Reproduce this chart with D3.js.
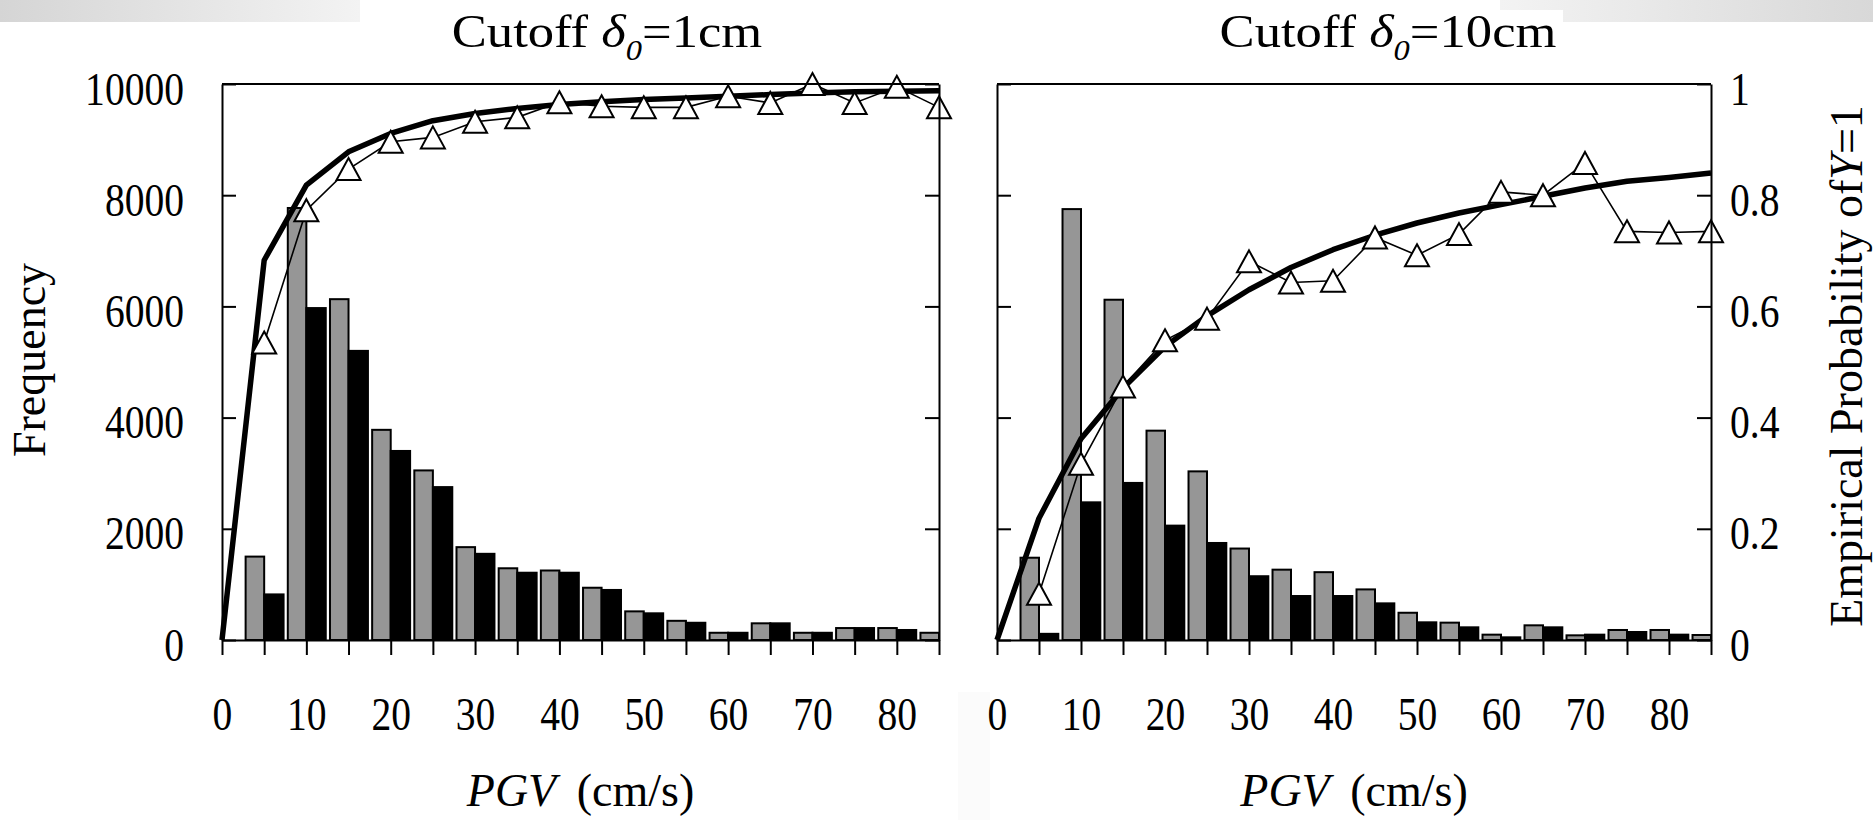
<!DOCTYPE html>
<html>
<head>
<meta charset="utf-8">
<script src="https://cdn.jsdelivr.net/npm/d3@7"></script>
<style>
body { margin: 0; background: #fff; }
svg { display: block; font-family: "Liberation Serif", "Times New Roman", serif; }
</style>
</head>
<body>
<div id="chart"></div>
<script>
'use strict';

// bin centres (PGV, cm/s) for bars and empirical points
var pgv = [5, 10, 15, 20, 25, 30, 35, 40, 45, 50, 55, 60, 65, 70, 75, 80, 85];
// points of the fitted curve
var fitPgv = [0, 5, 10, 15, 20, 25, 30, 35, 40, 45, 50, 55, 60, 65, 70, 75, 80, 85];

// cutoff 1cm
var count1All = [1500, 7770, 6130, 3780, 3050, 1670, 1290, 1250, 940, 515, 345, 130, 300, 130, 215, 215, 130];
var count1Y = [820, 5970, 5200, 3400, 2750, 1550, 1210, 1210, 900, 480, 310, 130, 300, 130, 215, 180, null];
var prob1Emp = [0.535, 0.773, 0.847, 0.896, 0.904, 0.932, 0.940, 0.967, 0.960, 0.958, 0.958, 0.978, 0.966, 1.0, 0.966, 0.995, 0.958];
var prob1Fit = [0, 0.683, 0.818, 0.878, 0.911, 0.934, 0.947, 0.956, 0.963, 0.968, 0.972, 0.975, 0.978, 0.981, 0.984, 0.986, 0.987, 0.988];

// cutoff 10cm
var count10All = [1480, 7750, 6120, 3765, 3033, 1645, 1265, 1220, 910, 490, 312, 96, 264, 84, 180, 180, 90];
var count10Y = [111, 2476, 2825, 2057, 1745, 1147, 791, 791, 659, 318, 228, 48, 228, 96, 144, 96, null];
var prob10Emp = [0.083, 0.317, 0.456, 0.539, 0.578, 0.681, 0.643, 0.646, 0.724, 0.692, 0.730, 0.806, 0.800, 0.858, 0.735, 0.733, 0.735];
var prob10Fit = [0, 0.219, 0.362, 0.453, 0.528, 0.583, 0.630, 0.670, 0.702, 0.728, 0.750, 0.768, 0.783, 0.798, 0.813, 0.825, 0.832, 0.840];

var xTicks = [0, 5, 10, 15, 20, 25, 30, 35, 40, 45, 50, 55, 60, 65, 70, 75, 80, 85];
var countTicks = [0, 2000, 4000, 6000, 8000, 10000];
var probTicks = [0, 0.2, 0.4, 0.6, 0.8, 1];

var plotTop = 84;
var plotBottom = 640;

var panels = [
  { title: '1cm', left: 222, right: 939, titleX: 607, all: count1All, yes: count1Y, emp: prob1Emp, fit: prob1Fit, first: true },
  { title: '10cm', left: 997, right: 1711, titleX: 1388, all: count10All, yes: count10Y, emp: prob10Emp, fit: prob10Fit, first: false }
];

var svg = d3.select('#chart').append('svg')
  .attr('width', 1873)
  .attr('height', 820);

// slide background leftovers at the top edge
var defs = svg.append('defs');
var gl = defs.append('linearGradient').attr('id', 'bgLeft');
gl.append('stop').attr('offset', '0').attr('stop-color', '#d5d5d5');
gl.append('stop').attr('offset', '1').attr('stop-color', '#f3f3f3');
var gr = defs.append('linearGradient').attr('id', 'bgRight');
gr.append('stop').attr('offset', '0').attr('stop-color', '#f3f3f3');
gr.append('stop').attr('offset', '1').attr('stop-color', '#d8d8d8');

svg.append('rect').attr('x', 0).attr('y', 0).attr('width', 360).attr('height', 22).attr('fill', 'url(#bgLeft)');
svg.append('rect').attr('x', 1500).attr('y', 0).attr('width', 373).attr('height', 22).attr('fill', 'url(#bgRight)');
svg.append('rect').attr('x', 1500).attr('y', 10).attr('width', 63).attr('height', 12).attr('fill', '#fff');
svg.append('rect').attr('x', 958).attr('y', 692).attr('width', 32).attr('height', 128).attr('fill', '#fbfbfb');

function triangle(w, h) {
  return 'M0,' + (-h / 2) + 'L' + (w / 2) + ',' + (h / 2) + 'L' + (-w / 2) + ',' + (h / 2) + 'Z';
}

function fixAxis(sel) {
  sel.attr('font-family', null).attr('font-size', 46);
  sel.selectAll('path, line').attr('stroke', '#000').attr('stroke-width', 2);
  sel.selectAll('text').attr('fill', '#000');
}

function drawPanel(p) {
  var x = d3.scaleLinear().domain([0, 85]).range([p.left, p.right]);
  var y = d3.scaleLinear().domain([0, 10000]).range([plotBottom, plotTop]);
  var yp = d3.scaleLinear().domain([0, 1]).range([plotBottom, plotTop]);

  var g = svg.append('g');

  // all records (grey) and Y=1 records (black)
  g.selectAll('rect.all')
    .data(p.all)
    .enter()
    .append('rect')
    .attr('class', 'all')
    .attr('x', (d, i) => x(pgv[i] - 2.2))
    .attr('width', (d, i) => x(pgv[i]) - x(pgv[i] - 2.2))
    .attr('y', d => y(d))
    .attr('height', d => y(0) - y(d))
    .attr('fill', '#969696')
    .attr('stroke', '#000')
    .attr('stroke-width', 2);

  g.selectAll('rect.yes')
    .data(p.yes.map((d, i) => ({ v: d, pgv: pgv[i] })).filter(d => d.v !== null))
    .enter()
    .append('rect')
    .attr('class', 'yes')
    .attr('x', d => x(d.pgv))
    .attr('width', d => x(d.pgv + 2.3) - x(d.pgv))
    .attr('y', d => y(d.v))
    .attr('height', d => y(0) - y(d.v))
    .attr('fill', '#000')
    .attr('stroke', '#000')
    .attr('stroke-width', 2);

  var line = d3.line()
    .x(d => x(d[0]))
    .y(d => yp(d[1]));

  g.append('path')
    .datum(d3.zip(fitPgv, p.fit))
    .attr('d', line)
    .attr('fill', 'none')
    .attr('stroke', '#000')
    .attr('stroke-width', 5.5)
    .attr('stroke-linejoin', 'round');

  g.append('path')
    .datum(d3.zip(pgv, p.emp))
    .attr('d', line)
    .attr('fill', 'none')
    .attr('stroke', '#000')
    .attr('stroke-width', 1.6);

  g.selectAll('path.tri')
    .data(d3.zip(pgv, p.emp))
    .enter()
    .append('path')
    .attr('class', 'tri')
    .attr('d', triangle(24, 22))
    .attr('transform', d => 'translate(' + x(d[0]) + ',' + yp(d[1]) + ')')
    .attr('fill', '#fff')
    .attr('stroke', '#000')
    .attr('stroke-width', 2)
    .attr('stroke-linejoin', 'miter');

  // frame and axes
  g.append('line')
    .attr('x1', p.left).attr('x2', p.right)
    .attr('y1', plotTop).attr('y2', plotTop)
    .attr('stroke', '#000').attr('stroke-width', 2);

  var xAxis = d3.axisBottom(x)
    .tickValues(xTicks)
    .tickSizeInner(15)
    .tickSizeOuter(0)
    .tickFormat(d => d % 10 === 0 ? d : '');

  g.append('g')
    .attr('transform', 'translate(0,' + plotBottom + ')')
    .call(xAxis)
    .call(fixAxis)
    .call(s => s.selectAll('text').attr('y', 0).attr('dy', 0)
      .attr('transform', 'translate(0,90) scale(0.86,1)'));

  if (p.first) {
    var yAxis = d3.axisLeft(y).tickValues(countTicks).tickSizeInner(-14).tickSizeOuter(0)
      .tickFormat(d3.format('d'));
    g.append('g')
      .attr('transform', 'translate(' + p.left + ',0)')
      .call(yAxis)
      .call(fixAxis)
      .call(s => s.selectAll('text').attr('x', 0).attr('dy', 0)
        .attr('transform', 'translate(-38,20) scale(0.86,1)'));

    g.append('g')
      .attr('transform', 'translate(' + p.right + ',0)')
      .call(d3.axisLeft(y).tickValues(countTicks).tickSizeInner(14).tickSizeOuter(0).tickFormat(''))
      .call(fixAxis);
  } else {
    g.append('g')
      .attr('transform', 'translate(' + p.left + ',0)')
      .call(d3.axisRight(y).tickValues(countTicks).tickSizeInner(14).tickSizeOuter(0).tickFormat(''))
      .call(fixAxis);

    var pAxis = d3.axisRight(yp).tickValues(probTicks).tickSizeInner(-14).tickSizeOuter(0)
      .tickFormat(d => String(d));
    g.append('g')
      .attr('transform', 'translate(' + p.right + ',0)')
      .call(pAxis)
      .call(fixAxis)
      .call(s => s.selectAll('text').attr('x', 0).attr('dy', 0)
        .attr('transform', 'translate(19,20) scale(0.86,1)'));
  }

  // title
  var t = svg.append('text')
    .attr('transform', 'translate(' + p.titleX + ',47) scale(1.12,1)')
    .attr('text-anchor', 'middle')
    .attr('font-size', 47);
  t.append('tspan').text('Cutoff ');
  t.append('tspan').attr('font-style', 'italic').text('δ');
  t.append('tspan').attr('font-style', 'italic').attr('font-size', 29).attr('dy', 13).text('0');
  t.append('tspan').attr('dy', -13).text('=' + p.title);

  // x label
  var xl = svg.append('text')
    .attr('x', (p.left + p.right) / 2)
    .attr('y', 806)
    .attr('text-anchor', 'middle')
    .attr('font-size', 46);
  xl.append('tspan').attr('font-style', 'italic').text('PGV');
  xl.append('tspan').attr('dx', 9).text(' (cm/s)');
}

panels.forEach(drawPanel);

svg.append('text')
  .attr('transform', 'translate(45,360) rotate(-90)')
  .attr('text-anchor', 'middle')
  .attr('font-size', 46)
  .text('Frequency');

var yl = svg.append('text')
  .attr('transform', 'translate(1862,366) rotate(-90)')
  .attr('text-anchor', 'middle')
  .attr('font-size', 46);
yl.append('tspan').text('Empirical Probability of');
yl.append('tspan').attr('font-style', 'italic').text('Y');
yl.append('tspan').text('=1');
</script>
</body>
</html>
